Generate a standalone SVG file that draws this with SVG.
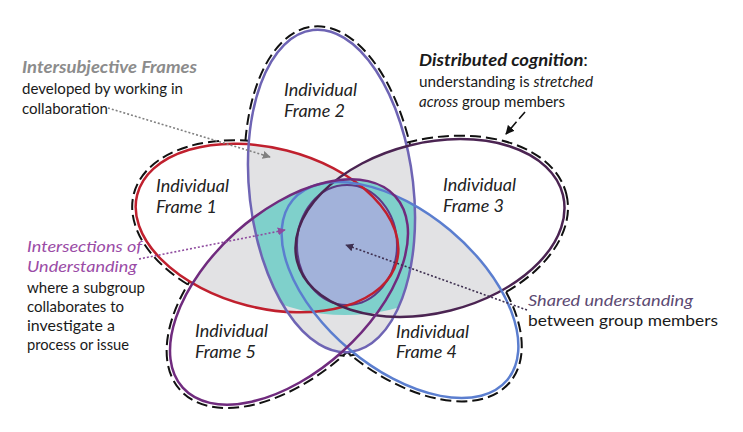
<svg xmlns="http://www.w3.org/2000/svg" xmlns:xlink="http://www.w3.org/1999/xlink" width="743" height="432" viewBox="0 0 743 432">
<style>
text{font-family:Lato,"Liberation Sans",sans-serif;font-size:16px;fill:#1a1a1a}
.lbl{font-style:italic;fill:#222;font-size:17px}
.bi{font-weight:bold;font-style:italic}
.it{font-style:italic}
.grey{fill:#e2e2e4}
.teal{fill:#7fd0cb}
.white{fill:#fff}
.dash{fill:none;stroke:#111;stroke-width:2;stroke-dasharray:11 5}
.edge{fill:none;stroke-width:2.5}
.dot{fill:none;stroke-width:1.6;stroke-dasharray:2 2}
</style>
<defs>
<ellipse id="e1" cx="267" cy="228" rx="134" ry="80" transform="rotate(14.3 267 228)"/>
<ellipse id="e2" cx="331.5" cy="191" rx="82" ry="162" transform="rotate(-6.6 331.5 191)"/>
<ellipse id="e3" cx="430" cy="228" rx="137" ry="85" transform="rotate(-14 430 228)"/>
<ellipse id="e4" cx="400" cy="290" rx="140" ry="78" transform="rotate(40 400 290)"/>
<ellipse id="e5" cx="289" cy="292" rx="143" ry="80" transform="rotate(-42 289 292)"/>
<clipPath id="c1"><use href="#e1"/></clipPath>
<clipPath id="c2"><use href="#e2"/></clipPath>
<clipPath id="c3"><use href="#e3"/></clipPath>
<clipPath id="c4"><use href="#e4"/></clipPath>
<clipPath id="c5"><use href="#e5"/></clipPath>
<clipPath id="ct"><ellipse cx="345" cy="247" rx="118" ry="68"/></clipPath>
<marker id="mg" viewBox="0 0 10 10" refX="9" refY="5" markerWidth="8" markerHeight="8" markerUnits="userSpaceOnUse" orient="auto"><path d="M0,0L10,5L0,10z" fill="#808080"/></marker>
<marker id="mp" viewBox="0 0 10 10" refX="9" refY="5" markerWidth="8" markerHeight="8" markerUnits="userSpaceOnUse" orient="auto"><path d="M0,0L10,5L0,10z" fill="#8e4a9e"/></marker>
<marker id="md" viewBox="0 0 10 10" refX="9" refY="5" markerWidth="8" markerHeight="8" markerUnits="userSpaceOnUse" orient="auto"><path d="M0,0L10,5L0,10z" fill="#3e3050"/></marker>
<marker id="mk" viewBox="0 0 10 10" refX="9" refY="5" markerWidth="9" markerHeight="9" markerUnits="userSpaceOnUse" orient="auto"><path d="M0,0L10,5L0,10z" fill="#111"/></marker>
</defs>
<rect width="743" height="432" fill="#fff"/>
<g id="distributed-outline">
<ellipse class="dash" cx="267" cy="228" rx="137.5" ry="83.5" transform="rotate(14.3 267 228)"/>
<ellipse class="dash" cx="331.5" cy="191" rx="85.5" ry="165.5" transform="rotate(-6.6 331.5 191)"/>
<ellipse class="dash" cx="430" cy="228" rx="140.5" ry="88.5" transform="rotate(-14 430 228)"/>
<ellipse class="dash" cx="400" cy="290" rx="143.5" ry="81.5" transform="rotate(40 400 290)"/>
<ellipse class="dash" cx="289" cy="292" rx="146.5" ry="83.5" transform="rotate(-42 289 292)"/>
</g>
<g id="fills">
<use href="#e1" class="white"/><use href="#e2" class="white"/><use href="#e3" class="white"/><use href="#e4" class="white"/><use href="#e5" class="white"/>
<g clip-path="url(#c1)"><use href="#e2" class="grey"/><use href="#e3" class="grey"/><use href="#e4" class="grey"/><use href="#e5" class="grey"/></g>
<g clip-path="url(#c2)"><use href="#e3" class="grey"/><use href="#e4" class="grey"/><use href="#e5" class="grey"/></g>
<g clip-path="url(#c3)"><use href="#e4" class="grey"/><use href="#e5" class="grey"/></g>
<g clip-path="url(#c4)"><use href="#e5" class="grey"/></g>
<g clip-path="url(#ct)">
<g clip-path="url(#c1)"><g clip-path="url(#c2)"><use href="#e3" class="teal"/><use href="#e4" class="teal"/><use href="#e5" class="teal"/></g></g>
<g clip-path="url(#c1)"><g clip-path="url(#c3)"><use href="#e4" class="teal"/><use href="#e5" class="teal"/></g></g>
<g clip-path="url(#c1)"><g clip-path="url(#c4)"><use href="#e5" class="teal"/></g></g>
<g clip-path="url(#c2)"><g clip-path="url(#c3)"><use href="#e4" class="teal"/><use href="#e5" class="teal"/></g></g>
<g clip-path="url(#c2)"><g clip-path="url(#c4)"><use href="#e5" class="teal"/></g></g>
<g clip-path="url(#c3)"><g clip-path="url(#c4)"><use href="#e5" class="teal"/></g></g>
</g>
</g>
<g id="shared">
<ellipse cx="347" cy="245" rx="50" ry="60" fill="#a2b2da" stroke="#5b3a86" stroke-width="2"/>
</g>
<g id="frame1"><use href="#e1" class="edge" stroke="#c0202e"/><text class="lbl" x="156" y="192" textLength="73" lengthAdjust="spacingAndGlyphs">Individual</text><text class="lbl" x="156" y="213" textLength="61" lengthAdjust="spacingAndGlyphs">Frame 1</text></g>
<g id="frame2"><use href="#e2" class="edge" stroke="#6e64b4"/><text class="lbl" x="284" y="96" textLength="73" lengthAdjust="spacingAndGlyphs">Individual</text><text class="lbl" x="284" y="117" textLength="61" lengthAdjust="spacingAndGlyphs">Frame 2</text></g>
<g id="frame3"><use href="#e3" class="edge" stroke="#4b2452"/><text class="lbl" x="443" y="191" textLength="73" lengthAdjust="spacingAndGlyphs">Individual</text><text class="lbl" x="443" y="212" textLength="61" lengthAdjust="spacingAndGlyphs">Frame 3</text></g>
<g id="frame4"><use href="#e4" class="edge" stroke="#5b7ecf" stroke-width="3"/><text class="lbl" x="396" y="338" textLength="73" lengthAdjust="spacingAndGlyphs">Individual</text><text class="lbl" x="396" y="358" textLength="61" lengthAdjust="spacingAndGlyphs">Frame 4</text></g>
<g id="frame5"><use href="#e5" class="edge" stroke="#702b7e"/><text class="lbl" x="195" y="337" textLength="73" lengthAdjust="spacingAndGlyphs">Individual</text><text class="lbl" x="195" y="358" textLength="61" lengthAdjust="spacingAndGlyphs">Frame 5</text></g>
<g id="connectors">
<line class="dot" x1="108" y1="108" x2="270" y2="157" stroke="#808080" marker-end="url(#mg)"/>
<line class="dot" x1="139" y1="259" x2="285" y2="230" stroke="#8e4a9e" marker-end="url(#mp)"/>
<line class="dot" x1="527" y1="310" x2="346" y2="245" stroke="#3e3050" marker-end="url(#md)"/>
<line x1="525" y1="112" x2="506" y2="134" stroke="#111" stroke-width="1.6" stroke-dasharray="9 4" marker-end="url(#mk)"/>
</g>
<g id="intersubjective">
<text class="bi" x="22" y="73" style="fill:#8c8c8c;font-size:17px" textLength="175" lengthAdjust="spacingAndGlyphs">Intersubjective Frames</text>
<text x="22" y="94" textLength="161" lengthAdjust="spacingAndGlyphs">developed by working in</text>
<text x="22" y="114" textLength="86" lengthAdjust="spacingAndGlyphs">collaboration</text>
</g>
<g id="distributed">
<text x="419" y="66" textLength="169" lengthAdjust="spacingAndGlyphs" style="font-size:17px"><tspan class="bi">Distributed cognition</tspan>:</text>
<text x="419" y="87" textLength="174" lengthAdjust="spacingAndGlyphs">understanding is <tspan class="it">stretched</tspan></text>
<text x="419" y="107" textLength="146" lengthAdjust="spacingAndGlyphs"><tspan class="it">across</tspan> group members</text>
</g>
<g id="intersections">
<text class="it" x="27" y="252" style="fill:#9a4ba6" textLength="115" lengthAdjust="spacingAndGlyphs">Intersections of</text>
<text class="it" x="27" y="272" style="fill:#9a4ba6" textLength="110" lengthAdjust="spacingAndGlyphs">Understanding</text>
<text x="27" y="293" textLength="118" lengthAdjust="spacingAndGlyphs">where a subgroup</text>
<text x="27" y="312" textLength="97" lengthAdjust="spacingAndGlyphs">collaborates to</text>
<text x="27" y="331" textLength="88" lengthAdjust="spacingAndGlyphs">investigate a</text>
<text x="27" y="350" textLength="102" lengthAdjust="spacingAndGlyphs">process or issue</text>
</g>
<g id="shared-label">
<text class="it" x="528" y="306" style="fill:#5c4a72" textLength="165" lengthAdjust="spacingAndGlyphs">Shared understanding</text>
<text x="528" y="326" textLength="190" lengthAdjust="spacingAndGlyphs">between group members</text>
</g>
</svg>
